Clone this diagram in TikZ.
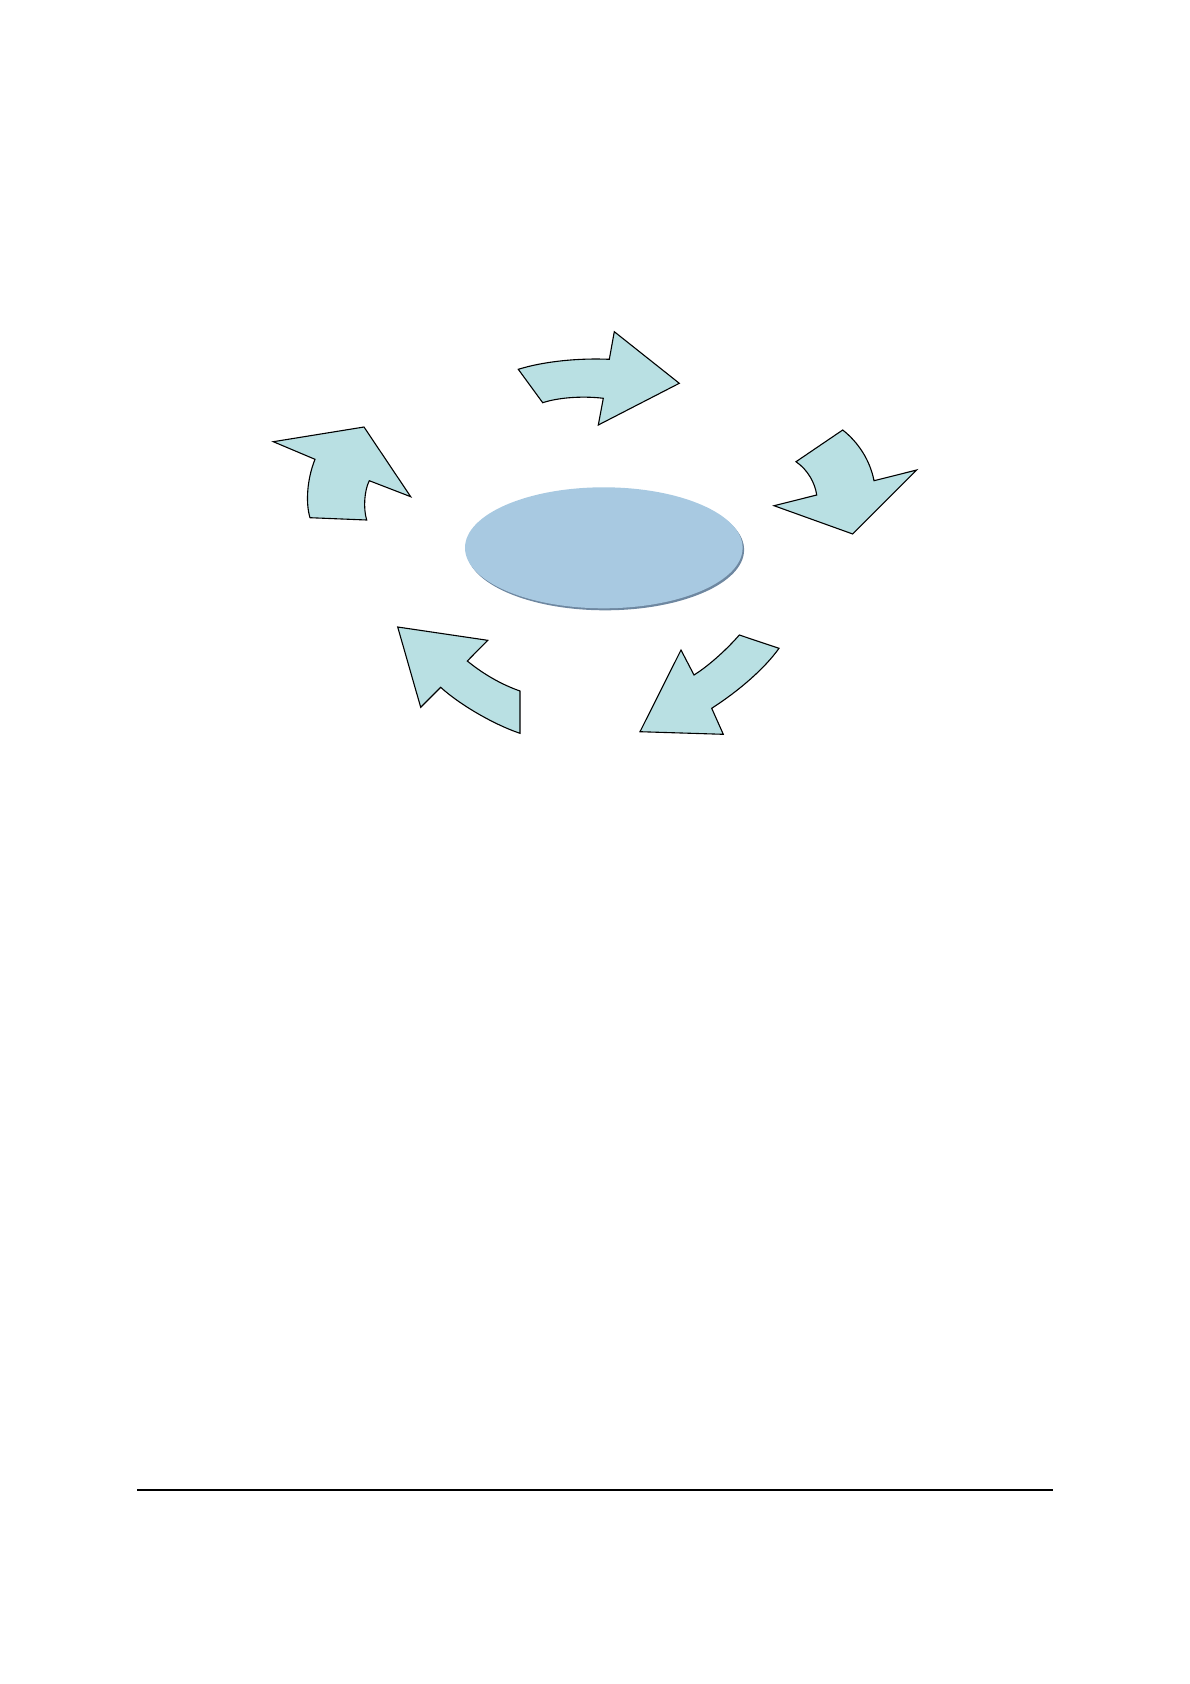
\documentclass[tikz,border=0pt]{standalone}
\usetikzlibrary{shapes.geometric}
\definecolor{arrowfill}{RGB}{185,224,227}
\definecolor{ovalfill}{RGB}{168,201,225}
\definecolor{ovalshadow}{RGB}{110,135,160}
\tikzset{
  bentarrow/.style={fill=arrowfill, draw=black, line width=1.1pt, line join=miter},
  rule/.style={draw=black, line width=1.2pt}
}
\begin{document}
\begin{tikzpicture}[x=1pt,y=-1pt]
\useasboundingbox (0,0) rectangle (1190,1684);
% central oval with shadow
\fill[ovalshadow] (605.3,549.8) ellipse [x radius=138.8, y radius=60.5];
\node[ellipse, fill=ovalfill, minimum width=277.6pt, minimum height=121pt, inner sep=0pt] (oval) at (603.8,547.8) {};
% upper-left arrow
\path[bentarrow] (310,517.7) .. controls (305.5,503) and (307,479) .. (315,459.3)
  -- (273.3,441.7) -- (364,427) -- (410.7,496.7) -- (369.3,480.7)
  .. controls (364.5,490) and (363,508) .. (366.7,520) -- cycle;
% top arrow
\path[bentarrow] (518.3,369.3) .. controls (545,361) and (580,358) .. (609.3,359.3)
  -- (614.3,331.7) -- (679.3,383.3) -- (598.3,425) -- (603.3,398.3)
  .. controls (585,396) and (560,397) .. (542.7,402.7) -- cycle;
% right arrow
\path[bentarrow] (796,461.7) -- (842.7,430) .. controls (858,442) and (870,460) .. (874,480.7)
  -- (916.7,470) -- (852.7,534) -- (774,505.7) -- (816.7,495)
  .. controls (815,483) and (808,470) .. (796,461.7) -- cycle;
% bottom-right arrow
\path[bentarrow] (739.3,635) -- (779,648.3) .. controls (765,668) and (740,690) .. (711.7,708.3)
  -- (723.3,734.3) -- (640,731.7) -- (681,650) -- (694,675)
  .. controls (710,665) and (728,648) .. (739.3,635) -- cycle;
% bottom-left arrow
\path[bentarrow] (397.7,627) -- (487.7,640.3) -- (467.3,661)
  .. controls (482,673) and (500,684) .. (520,691)
  -- (520,733.3) .. controls (495,725) and (460,705) .. (440.7,687.3)
  -- (420.7,707.3) -- cycle;
% footer rule
\coordinate (ruleL) at (137,1490);
\coordinate (ruleR) at (1053,1490);
\draw[rule] (ruleL) -- (ruleR);
\end{tikzpicture}
\end{document}
